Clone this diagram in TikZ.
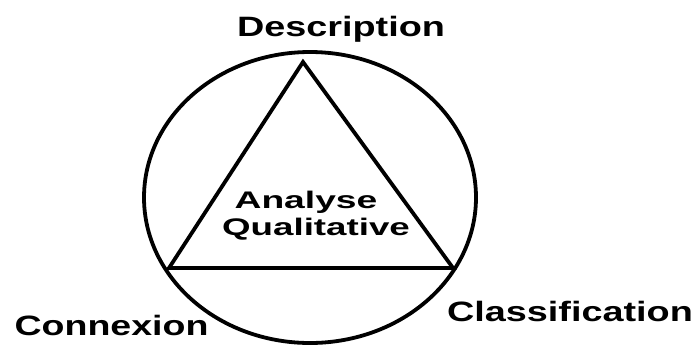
\documentclass[tikz,border=0pt]{standalone}
\usepackage{fontspec}
\setmainfont{Liberation Sans}
\begin{document}
\begin{tikzpicture}[x=1pt,y=-1pt,
  shapeline/.style={line width=3.8pt, line join=miter, draw=black},
  label28/.style={font=\fontsize{28}{30}\selectfont\bfseries, inner sep=0pt, anchor=base},
  label24/.style={font=\fontsize{24}{27}\selectfont\bfseries, inner sep=0pt, anchor=base}]
\useasboundingbox (0,0) rectangle (697,349);
\draw[shapeline] (310,197.5) ellipse [x radius=166, y radius=145.5];
\coordinate (apex) at (303,62);
\coordinate (left) at (169,268);
\coordinate (right) at (453,268);
\draw[shapeline] (apex) -- (left) -- (right) -- cycle;
\node[label28] (desc) at (341,36.7) {\scalebox{1.35}[1]{Description}};
\node[label28] (conn) at (111.5,335) {\scalebox{1.34}[1]{Connexion}};
\node[label28] (class) at (570,321) {\scalebox{1.35}[1]{Classification}};
\node[label24] (ana) at (306,208.3) {\scalebox{1.55}[1]{Analyse}};
\node[label24] (qual) at (316,235) {\scalebox{1.53}[1]{Qualitative}};
\end{tikzpicture}
\end{document}
